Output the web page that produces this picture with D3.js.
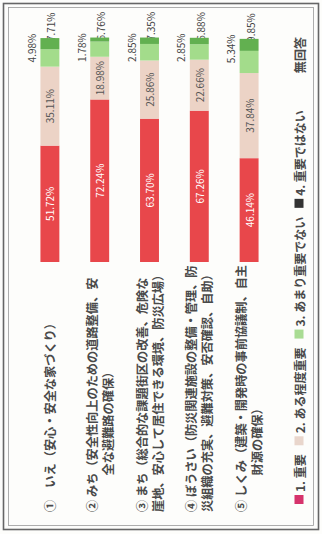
<!DOCTYPE html>
<html lang="ja">
<head>
<meta charset="utf-8">
<script src="https://cdn.jsdelivr.net/npm/d3@7"></script>
<style>
  html, body { margin: 0; padding: 0; background: #fdfdfb; }
  svg { display: block; }
  text { font-family: "Noto Sans CJK JP", "Noto Sans", sans-serif; }
</style>
</head>
<body>
<svg id="chart" width="322" height="534"></svg>
<script>
// 各施策の重要度（%）
const categories = ["いえ", "みち", "まち", "ぼうさい", "しくみ"];
const categoryLabels = [
  ["①　いえ（安心・安全な家づくり）"],
  ["② みち（安全性向上のための道路整備、安", "全な避難路の確保）"],
  ["③ まち（総合的な課題街区の改善、危険な", "崖地、安心して居住できる環境、防災広場）"],
  ["④ ぼうさい（防災関連施設の整備・管理、防", "災組織の充実、避難対策、安否確認、自助）"],
  ["⑤ しくみ（建築・開発時の事前協議制、自主", "財源の確保）"]
];
const seriesNames = ["1. 重要", "2. ある程度重要", "3. あまり重要でない", "4. 重要ではない"];
const important       = [51.72, 72.24, 63.70, 67.26, 46.14];
const fairlyImportant = [35.11, 18.98, 25.86, 22.66, 37.84];
const notVery         = [7.71, 6.76, 7.35, 6.88, 9.85];
const notImportant    = [4.98, 1.78, 2.85, 2.85, 5.34];
const noAnswerLabel = "無回答";

const colors = ["#e8474b", "#ecd3c6", "#a3dc8b", "#62b050"];
const legendColors = ["#d6336c", "#e9d6cc", "#a9dc93", "#333333"];

const W = 322, H = 534;
const svg = d3.select("#chart");

// frame
svg.append("rect").attr("x", 3.5).attr("y", 3.5).attr("width", 315).attr("height", 526)
  .attr("fill", "none").attr("stroke", "#666").attr("stroke-width", 1.6);
svg.append("rect").attr("x", 8.5).attr("y", 7.5).attr("width", 305).attr("height", 518)
  .attr("fill", "none").attr("stroke", "#999").attr("stroke-width", 0.8);

// The chart is laid out as a horizontal bar chart and turned a quarter turn.
const g = svg.append("g").attr("transform", `translate(0,${H}) rotate(-90)`);

const rows = categories.map((c, i) => ({
  key: c,
  values: [important[i], fairlyImportant[i], notVery[i], notImportant[i]]
}));

const band = d3.scaleBand().domain(categories).range([25, 274])
  .paddingInner(0.62).paddingOuter(0.31);
const val = d3.scaleLinear().domain([0, 100]).range([272, 497]);

const numFont = 10;
const labelFont = 12.2;
rows.forEach((r, i) => {
  let acc = 0;
  const y0 = band(r.key), bw = band.bandwidth();
  const total = d3.sum(r.values);
  r.values.forEach((v, s) => {
    const a = acc, b = acc + v;
    acc = b;
    g.append("rect")
      .attr("x", val(a)).attr("y", y0)
      .attr("width", val(b) - val(a)).attr("height", bw)
      .attr("fill", colors[s]);
    const cx = y0 + bw / 2;
    const lbl = v.toFixed(2) + "%";
    if (s === 0 || s === 1) {
      g.append("text")
        .attr("x", (val(a) + val(b)) / 2).attr("y", cx)
        .attr("text-anchor", "middle").attr("dominant-baseline", "central")
        .attr("font-size", numFont)
        .attr("fill", s === 0 ? "#fff" : "#555")
        .text(lbl);
    } else if (s === 2) {
      g.append("text")
        .attr("x", val(total) - 3).attr("y", cx + 1)
        .attr("text-anchor", "start").attr("dominant-baseline", "central")
        .attr("font-size", numFont).attr("fill", "#444")
        .text(lbl);
    } else {
      g.append("text")
        .attr("x", val(total) - 10).attr("y", y0 - 9)
        .attr("text-anchor", "middle").attr("dominant-baseline", "central")
        .attr("font-size", numFont).attr("fill", "#444")
        .text(lbl);
    }
  });

  // category labels; a short wrapped line is indented
  const lines = categoryLabels[i];
  const cy = y0 + bw / 2;
  let firstWidth = 0;
  lines.forEach((ln, k) => {
    const off = (k - (lines.length - 1) / 2) * 16;
    const t = g.append("text")
      .attr("x", 22).attr("y", cy + off)
      .attr("dominant-baseline", "central")
      .attr("font-size", labelFont).attr("font-weight", "bold").attr("fill", "#4a4a4a")
      .text(ln);
    const w = t.node().getComputedTextLength();
    if (k === 0) firstWidth = w;
    else if (w < firstWidth * 0.6) t.attr("x", 22 + labelFont * 3);
  });
});

// legend along the foot of the chart
let lx = 30;
const ly = 299;
seriesNames.forEach((name, s) => {
  g.append("rect").attr("x", lx).attr("y", ly - 4.5).attr("width", 9).attr("height", 9)
    .attr("fill", legendColors[s]);
  lx += 12;
  const t = g.append("text").attr("x", lx).attr("y", ly)
    .attr("dominant-baseline", "central").attr("font-size", 12)
    .attr("font-weight", "bold").attr("fill", "#4a4a4a")
    .text(name);
  lx += t.node().getComputedTextLength() + 9;
});
g.append("text").attr("x", lx + 28).attr("y", ly)
  .attr("dominant-baseline", "central").attr("font-size", 12)
  .attr("font-weight", "bold").attr("fill", "#4a4a4a")
  .text(noAnswerLabel);
</script>
</body>
</html>
